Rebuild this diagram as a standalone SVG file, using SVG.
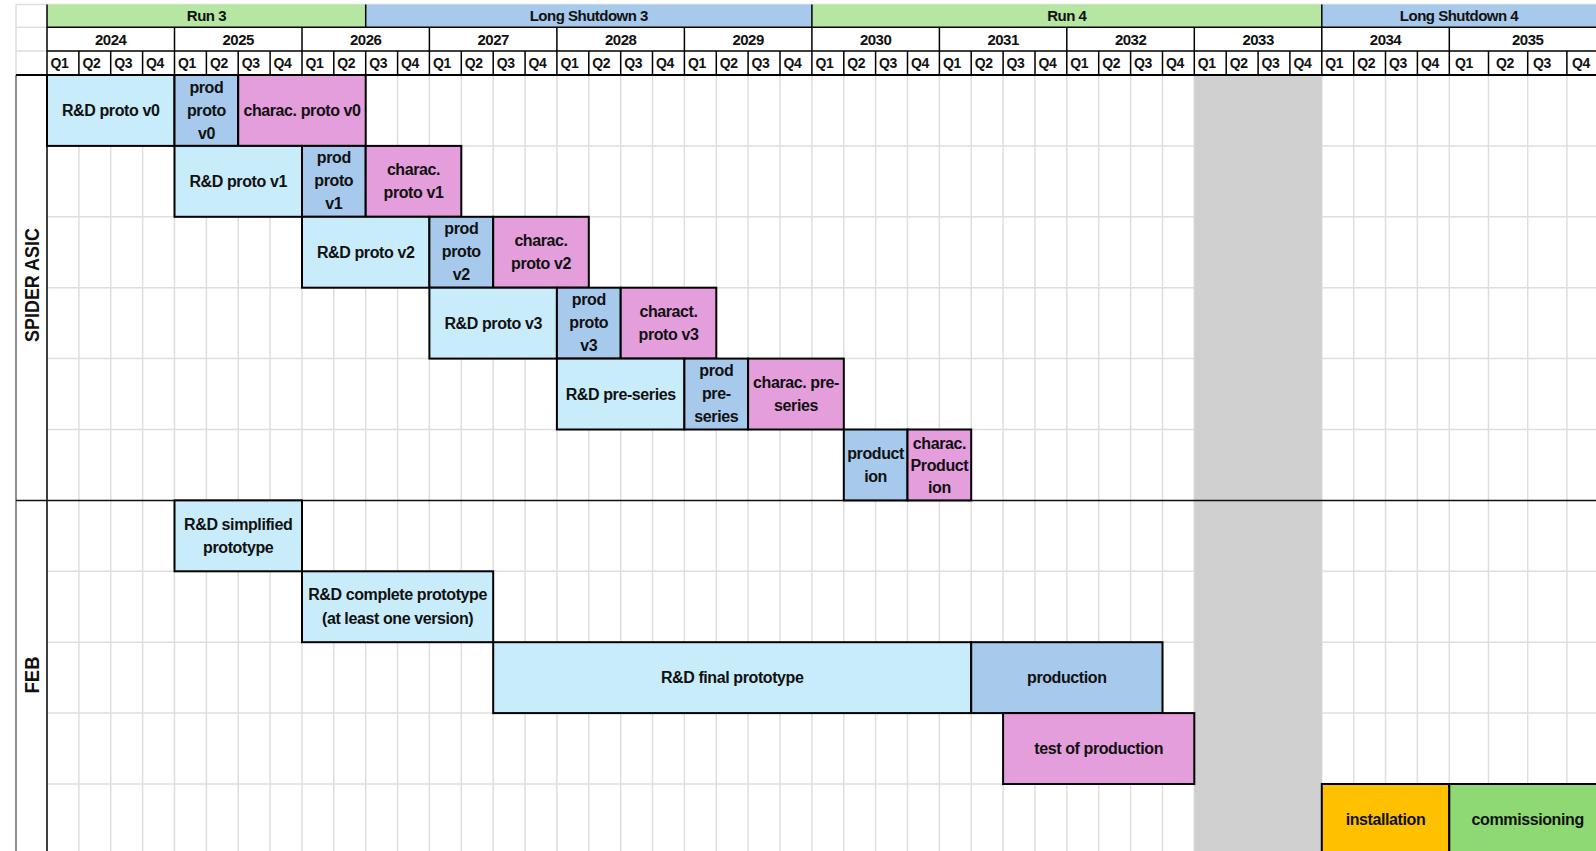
<svg xmlns="http://www.w3.org/2000/svg" width="1596" height="851" viewBox="0 0 1596 851">
<style>
.t{font-family:"Liberation Sans",Arial,sans-serif;font-weight:bold;font-size:16px;letter-spacing:-0.4px;text-anchor:middle;fill:#111}
.h{font-family:"Liberation Sans",Arial,sans-serif;font-weight:bold;font-size:15px;letter-spacing:-0.5px;text-anchor:middle;fill:#111}
.q{font-family:"Liberation Sans",Arial,sans-serif;font-weight:bold;font-size:14px;letter-spacing:-0.4px;fill:#111}
.big{font-family:"Liberation Sans",Arial,sans-serif;font-weight:bold;font-size:21px;text-anchor:middle;fill:#111}
.task{stroke:#000;stroke-width:2}
.lb{fill:#c9ecfb}.mb{fill:#a6c9ec}.pk{fill:#e59edc}.or{fill:#ffc000}.gr{fill:#8ed973}
.grid{stroke:#dedede;stroke-width:1.5;fill:none}
.blk{stroke:#000;stroke-width:1.5;fill:none}
</style>
<rect width="1596" height="851" fill="#fff"/>
<g id="grid">
<path class="grid" d="M78.9 75V851M110.7 75V851M142.6 75V851M174.5 75V851M206.4 75V851M238.2 75V851M270.1 75V851M302 75V851M333.8 75V851M365.7 75V851M397.6 75V851M429.4 75V851M461.3 75V851M493.2 75V851M525.1 75V851M556.9 75V851M588.8 75V851M620.7 75V851M652.5 75V851M684.4 75V851M716.3 75V851M748.1 75V851M780 75V851M811.9 75V851M843.8 75V851M875.6 75V851M907.5 75V851M939.4 75V851M971.2 75V851M1003.1 75V851M1035 75V851M1066.8 75V851M1098.7 75V851M1130.6 75V851M1162.5 75V851M1194.3 75V851M1321.8 75V851M1353.7 75V851M1385.5 75V851M1417.4 75V851M1449.3 75V851M1488.5 75V851M1527.7 75V851M1566.9 75V851"/>
<path class="grid" d="M47 145.9H1596M47 216.8H1596M47 287.7H1596M47 358.6H1596M47 429.5H1596M47 571.3H1596M47 642.2H1596M47 713.1H1596M47 784H1596"/>
<path class="grid" d="M16 4.5H1596M16 4.5V75M16 27.3H47M16 51H47"/>
<rect x="1194.3" y="75" width="127.5" height="776" fill="#d0d0d0"/>
</g>
<g id="header">
<rect x="47" y="4.5" width="318.7" height="22.8" fill="#b5e6a2"/>
<rect x="365.7" y="4.5" width="446.2" height="22.8" fill="#a6c9ec"/>
<rect x="811.9" y="4.5" width="509.9" height="22.8" fill="#b5e6a2"/>
<rect x="1321.8" y="4.5" width="274.2" height="22.8" fill="#a6c9ec"/>
<path class="blk" d="M47 27.3H1596M47 51H1596M365.7 4.5V27.3M811.9 4.5V27.3M1321.8 4.5V27.3M174.5 27.3V75M302 27.3V75M429.4 27.3V75M556.9 27.3V75M684.4 27.3V75M811.9 27.3V75M939.4 27.3V75M1066.8 27.3V75M1194.3 27.3V75M1321.8 27.3V75M1449.3 27.3V75M78.9 51V75M110.7 51V75M142.6 51V75M206.4 51V75M238.2 51V75M270.1 51V75M333.8 51V75M365.7 51V75M397.6 51V75M461.3 51V75M493.2 51V75M525.1 51V75M588.8 51V75M620.7 51V75M652.5 51V75M716.3 51V75M748.1 51V75M780 51V75M843.8 51V75M875.6 51V75M907.5 51V75M971.2 51V75M1003.1 51V75M1035 51V75M1098.7 51V75M1130.6 51V75M1162.5 51V75M1226.2 51V75M1258.1 51V75M1289.9 51V75M1353.7 51V75M1385.5 51V75M1417.4 51V75M1488.5 51V75M1527.7 51V75M1566.9 51V75"/>
<text class="h" x="206.4" y="21">Run 3</text>
<text class="h" x="588.8" y="21">Long Shutdown 3</text>
<text class="h" x="1066.8" y="21">Run 4</text>
<text class="h" x="1459" y="21">Long Shutdown 4</text>
<text class="h" y="44.5"><tspan x="110.7">2024</tspan><tspan x="238.2">2025</tspan><tspan x="365.7">2026</tspan><tspan x="493.2">2027</tspan><tspan x="620.7">2028</tspan><tspan x="748.1">2029</tspan><tspan x="875.6">2030</tspan><tspan x="1003.1">2031</tspan><tspan x="1130.6">2032</tspan><tspan x="1258.1">2033</tspan><tspan x="1385.5">2034</tspan><tspan x="1527.7">2035</tspan></text>
<text class="q" y="68"><tspan x="50.5">Q1</tspan><tspan x="82.4">Q2</tspan><tspan x="114.2">Q3</tspan><tspan x="146.1">Q4</tspan><tspan x="178">Q1</tspan><tspan x="209.9">Q2</tspan><tspan x="241.7">Q3</tspan><tspan x="273.6">Q4</tspan><tspan x="305.5">Q1</tspan><tspan x="337.3">Q2</tspan><tspan x="369.2">Q3</tspan><tspan x="401.1">Q4</tspan><tspan x="432.9">Q1</tspan><tspan x="464.8">Q2</tspan><tspan x="496.7">Q3</tspan><tspan x="528.6">Q4</tspan><tspan x="560.4">Q1</tspan><tspan x="592.3">Q2</tspan><tspan x="624.2">Q3</tspan><tspan x="656">Q4</tspan><tspan x="687.9">Q1</tspan><tspan x="719.8">Q2</tspan><tspan x="751.6">Q3</tspan><tspan x="783.5">Q4</tspan><tspan x="815.4">Q1</tspan><tspan x="847.3">Q2</tspan><tspan x="879.1">Q3</tspan><tspan x="911">Q4</tspan><tspan x="942.9">Q1</tspan><tspan x="974.7">Q2</tspan><tspan x="1006.6">Q3</tspan><tspan x="1038.5">Q4</tspan><tspan x="1070.3">Q1</tspan><tspan x="1102.2">Q2</tspan><tspan x="1134.1">Q3</tspan><tspan x="1166">Q4</tspan><tspan x="1197.8">Q1</tspan><tspan x="1229.7">Q2</tspan><tspan x="1261.6">Q3</tspan><tspan x="1293.4">Q4</tspan><tspan x="1325.3">Q1</tspan><tspan x="1357.2">Q2</tspan><tspan x="1389">Q3</tspan><tspan x="1420.9">Q4</tspan><tspan x="1455">Q1</tspan><tspan x="1496">Q2</tspan><tspan x="1533">Q3</tspan><tspan x="1572">Q4</tspan></text>
</g>
<g id="frame">
<path d="M16 75V851" stroke="#444" stroke-width="1.2"/>
<path d="M47 4.5V851" stroke="#000" stroke-width="1.5"/>
<path d="M16 75H1596" stroke="#000" stroke-width="2"/>
<path d="M16 500.4H1596" stroke="#111" stroke-width="1.5"/>
</g>
<g id="label-spider"><text class="big" transform="translate(38.5 285) rotate(-90)" textLength="114" lengthAdjust="spacingAndGlyphs">SPIDER ASIC</text></g>
<g id="label-feb"><text class="big" transform="translate(38.5 675) rotate(-90)" textLength="37" lengthAdjust="spacingAndGlyphs">FEB</text></g>
<g id="connectors"></g>
<g id="rd-proto-v0"><rect class="task lb" x="47" y="75" width="127.5" height="70.9"/><text class="t" x="110.7" y="116">R&amp;D proto v0</text></g>
<g id="prod-proto-v0"><rect class="task mb" x="174.5" y="75" width="63.7" height="70.9"/><text class="t"><tspan x="206.4" y="92.5">prod</tspan><tspan x="206.4" y="115.5">proto</tspan><tspan x="206.4" y="138.5">v0</tspan></text></g>
<g id="charac-proto-v0"><rect class="task pk" x="238.2" y="75" width="127.5" height="70.9"/><text class="t" x="302" y="116">charac. proto v0</text></g>
<g id="rd-proto-v1"><rect class="task lb" x="174.5" y="145.9" width="127.5" height="70.9"/><text class="t" x="238.2" y="187">R&amp;D proto v1</text></g>
<g id="prod-proto-v1"><rect class="task mb" x="302" y="145.9" width="63.7" height="70.9"/><text class="t"><tspan x="333.8" y="163.4">prod</tspan><tspan x="333.8" y="186.4">proto</tspan><tspan x="333.8" y="209.4">v1</tspan></text></g>
<g id="charac-proto-v1"><rect class="task pk" x="365.7" y="145.9" width="95.6" height="70.9"/><text class="t"><tspan x="413.5" y="175.4">charac.</tspan><tspan x="413.5" y="198.4">proto v1</tspan></text></g>
<g id="rd-proto-v2"><rect class="task lb" x="302" y="216.8" width="127.4" height="70.9"/><text class="t" x="365.7" y="257.8">R&amp;D proto v2</text></g>
<g id="prod-proto-v2"><rect class="task mb" x="429.4" y="216.8" width="63.8" height="70.9"/><text class="t"><tspan x="461.3" y="234.3">prod</tspan><tspan x="461.3" y="257.3">proto</tspan><tspan x="461.3" y="280.3">v2</tspan></text></g>
<g id="charac-proto-v2"><rect class="task pk" x="493.2" y="216.8" width="95.6" height="70.9"/><text class="t"><tspan x="541" y="246.3">charac.</tspan><tspan x="541" y="269.3">proto v2</tspan></text></g>
<g id="rd-proto-v3"><rect class="task lb" x="429.4" y="287.7" width="127.5" height="70.9"/><text class="t" x="493.2" y="328.7">R&amp;D proto v3</text></g>
<g id="prod-proto-v3"><rect class="task mb" x="556.9" y="287.7" width="63.8" height="70.9"/><text class="t"><tspan x="588.8" y="305.2">prod</tspan><tspan x="588.8" y="328.2">proto</tspan><tspan x="588.8" y="351.2">v3</tspan></text></g>
<g id="charact-proto-v3"><rect class="task pk" x="620.7" y="287.7" width="95.6" height="70.9"/><text class="t"><tspan x="668.5" y="317.2">charact.</tspan><tspan x="668.5" y="340.2">proto v3</tspan></text></g>
<g id="rd-pre-series"><rect class="task lb" x="556.9" y="358.6" width="127.5" height="70.9"/><text class="t" x="620.7" y="399.6">R&amp;D pre-series</text></g>
<g id="prod-pre-series"><rect class="task mb" x="684.4" y="358.6" width="63.7" height="70.9"/><text class="t"><tspan x="716.3" y="376.1">prod</tspan><tspan x="716.3" y="399.1">pre-</tspan><tspan x="716.3" y="422.1">series</tspan></text></g>
<g id="charac-pre-series"><rect class="task pk" x="748.1" y="358.6" width="95.7" height="70.9"/><text class="t"><tspan x="796" y="388.1">charac. pre-</tspan><tspan x="796" y="411.1">series</tspan></text></g>
<g id="production-asic"><rect class="task mb" x="843.8" y="429.5" width="63.7" height="70.9"/><text class="t"><tspan x="875.6" y="459">product</tspan><tspan x="875.6" y="482">ion</tspan></text></g>
<g id="charac-production"><rect class="task pk" x="907.5" y="429.5" width="63.7" height="70.9"/><text class="t"><tspan x="939.4" y="448.5">charac.</tspan><tspan x="939.4" y="470.5">Product</tspan><tspan x="939.4" y="492.5">ion</tspan></text></g>
<g id="rd-simplified"><rect class="task lb" x="174.5" y="500.4" width="127.5" height="70.9"/><text class="t"><tspan x="238.2" y="529.9">R&amp;D simplified</tspan><tspan x="238.2" y="552.9">prototype</tspan></text></g>
<g id="rd-complete"><rect class="task lb" x="302" y="571.3" width="191.2" height="70.9"/><text class="t"><tspan x="397.6" y="600.3">R&amp;D complete prototype</tspan><tspan x="397.6" y="624.3">(at least one version)</tspan></text></g>
<g id="rd-final"><rect class="task lb" x="493.2" y="642.2" width="478" height="70.9"/><text class="t" x="732.2" y="683.2">R&amp;D final prototype</text></g>
<g id="production-feb"><rect class="task mb" x="971.2" y="642.2" width="191.3" height="70.9"/><text class="t" x="1066.8" y="683.2">production</text></g>
<g id="test-production"><rect class="task pk" x="1003.1" y="713.1" width="191.2" height="70.9"/><text class="t" x="1098.7" y="754.1">test of production</text></g>
<g id="installation"><rect class="task or" x="1321.8" y="784" width="127.5" height="80"/><text class="t" x="1385.5" y="825">installation</text></g>
<g id="commissioning"><rect class="task gr" x="1449.3" y="784" width="160" height="80"/><text class="t" x="1527.7" y="825">commissioning</text></g>
</svg>
